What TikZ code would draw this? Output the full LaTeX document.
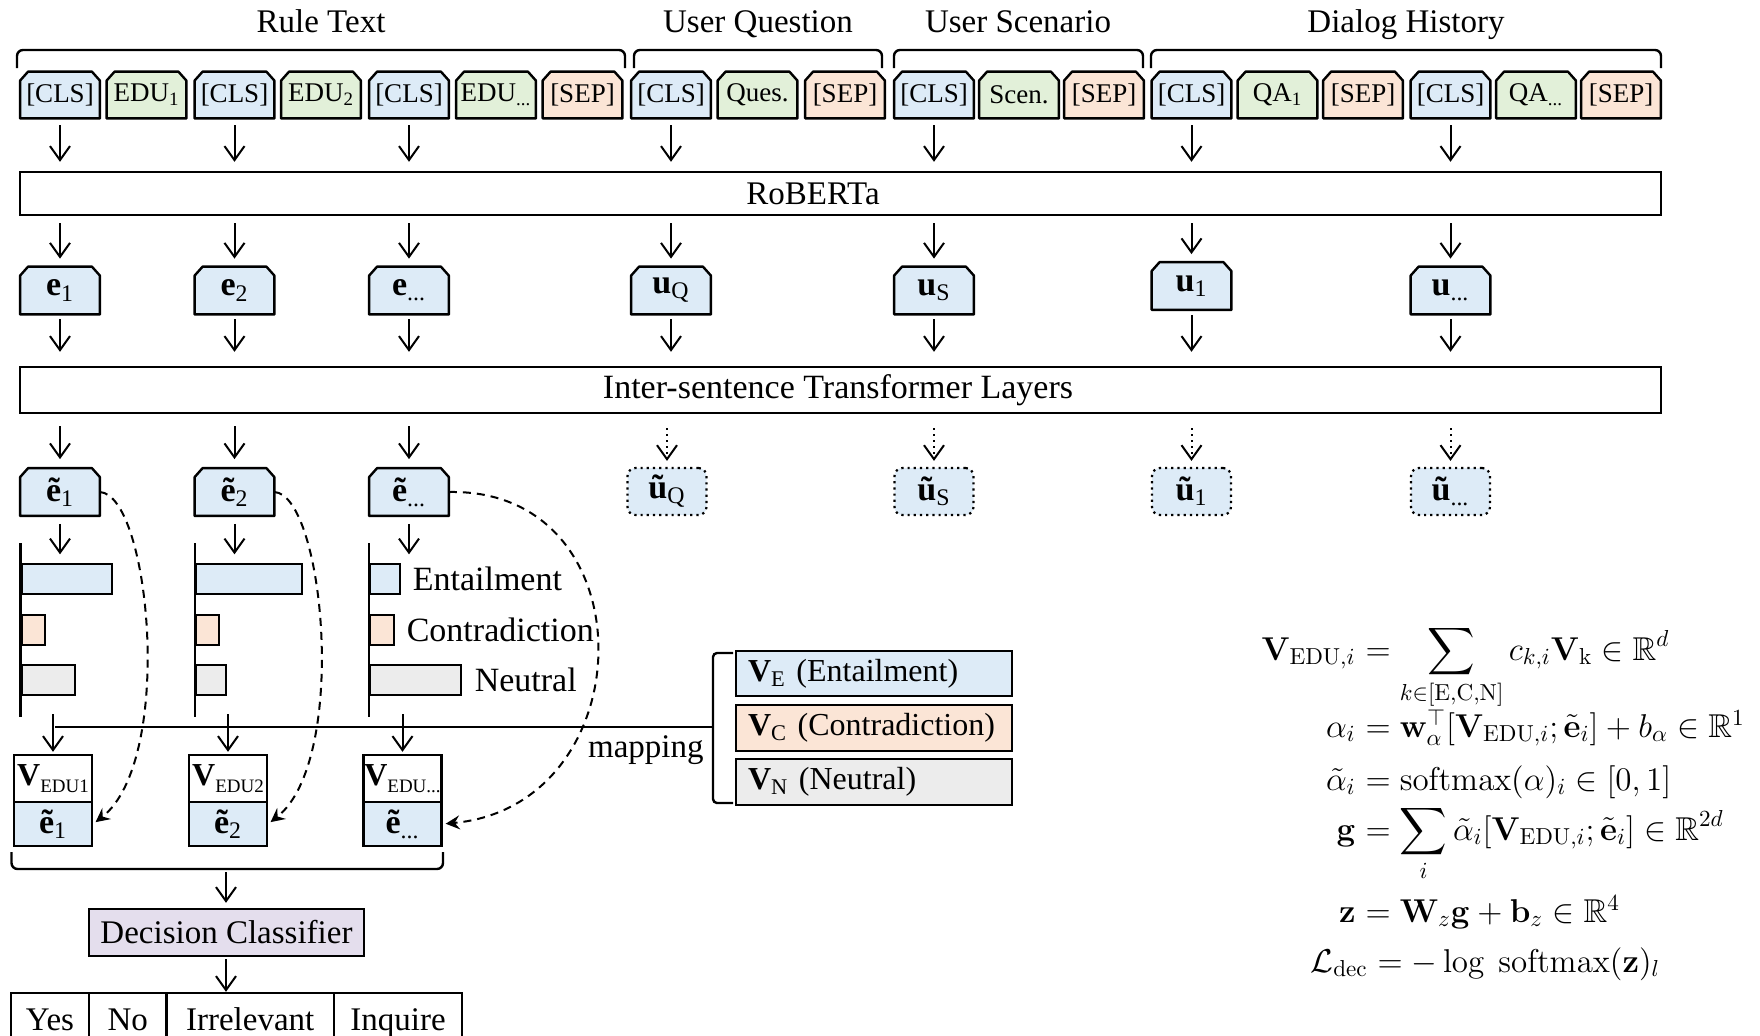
\RequirePackage{fix-cm}
\documentclass[tikz,border=0pt]{standalone}
\usepackage[no-math]{fontspec}
\setmainfont{Liberation Serif}
\usepackage{amsmath,amssymb}
\usetikzlibrary{arrows.meta}
\pgfdeclarelayer{bg}
\pgfsetlayers{bg,main}
\definecolor{cblue}{RGB}{221,235,247}
\definecolor{cgreen}{RGB}{226,240,217}
\definecolor{cpeach}{RGB}{251,229,214}
\definecolor{cgray}{RGB}{236,236,236}
\definecolor{cpurple}{RGB}{228,222,237}
\newcommand{\tokfont}{\fontsize{13.5}{16}\selectfont}
\newcommand{\lblfont}{\fontsize{16.5}{20}\selectfont}
\newcommand{\barfont}{\fontsize{17}{20}\selectfont}
\newcommand{\efont}{\fontsize{17}{20}\selectfont}
\newcommand{\mathsz}{\fontsize{16.5}{20}\selectfont}
\newcommand{\vsb}[1]{\raisebox{-0.45ex}{\fontsize{9.5}{10}\selectfont #1}}
% chamfered box: style, name, position, fill colour, text
\newcommand{\chnode}[5]{%
  \node[#1] (#2) at (#3) {#5};
  \begin{pgfonlayer}{bg}
    \draw[line width=1.2pt, fill=#4, line join=round]
      (#2.south west) -- ([yshift=-4.5pt]#2.north west) -- ([xshift=4pt]#2.north west)
      -- ([xshift=-4pt]#2.north east) -- ([yshift=-4.5pt]#2.north east) -- (#2.south east) -- cycle;
  \end{pgfonlayer}}
\begin{document}
\begin{tikzpicture}[x=0.5pt,y=-0.5pt,
  tok/.style={rectangle, minimum width=39.5pt, minimum height=23pt, inner sep=0pt, font=\tokfont},
  emb/.style={rectangle, minimum width=39.5pt, minimum height=23.5pt, inner sep=0pt, font=\efont},
  emt/.style={rectangle, draw, fill=cblue, dotted, line width=1.1pt, rounded corners=4pt,
    minimum width=39.5pt, minimum height=23.5pt, inner sep=0pt, font=\efont},
  layer/.style={draw, line width=1.2pt, minimum width=820.5pt, inner sep=0pt},
  blk/.style={draw, line width=1.2pt, inner sep=0pt},
  bar/.style={draw, line width=1.2pt, minimum height=15pt, inner sep=0pt, anchor=west},
  vbox/.style={blk, font=\fontsize{16}{19}\selectfont, text width=126pt, inner xsep=6pt, align=left},
  arr/.style={line width=1pt, -{Straight Barb[length=7pt,width=10pt]}},
  darr/.style={arr, dotted},
  dasharr/.style={line width=1pt, dash pattern=on 4pt off 3pt, -{Stealth[length=7pt,width=7pt,inset=2.5pt]}, shorten >=1.5pt},
  brace/.style={line width=1.2pt, rounded corners=3pt},
  ttl/.style={font=\lblfont, inner sep=0pt, anchor=base},
  mth/.style={font=\mathsz, inner sep=0pt}
]
\path[use as bounding box] (0,0) rectangle (1760,1035);
\clip (0,0) rectangle (1760,1035);

% ---------- titles and braces ----------
\node[ttl] (ttlR) at (321,32) {Rule Text};
\node[ttl] (ttlQ) at (758,32) {User Question};
\node[ttl] (ttlS) at (1018,32) {User Scenario};
\node[ttl] (ttlD) at (1406,32) {Dialog History};
\draw[brace] (17,68) -- (17,50) -- (625,50) -- (625,68);
\draw[brace] (634,68) -- (634,50) -- (882,50) -- (882,68);
\draw[brace] (894,68) -- (894,50) -- (1143,50) -- (1143,68);
\draw[brace] (1151,68) -- (1151,50) -- (1661,50) -- (1661,68);

% ---------- tokens ----------
\chnode{tok}{t1}{60,95}{cblue}{[CLS]}
\chnode{tok}{t2}{146.5,95}{cgreen}{EDU\textsubscript{1}}
\chnode{tok}{t3}{234.5,95}{cblue}{[CLS]}
\chnode{tok}{t4}{321,95}{cgreen}{EDU\textsubscript{2}}
\chnode{tok}{t5}{409,95}{cblue}{[CLS]}
\chnode{tok}{t6}{496,95}{cgreen}{EDU\textsubscript{...}}
\chnode{tok}{t7}{582.5,95}{cpeach}{[SEP]}
\chnode{tok}{t8}{671,95}{cblue}{[CLS]}
\chnode{tok}{t9}{757.5,95}{cgreen}{Ques.}
\chnode{tok}{t10}{845,95}{cpeach}{[SEP]}
\chnode{tok}{t11}{934,95}{cblue}{[CLS]}
\chnode{tok}{t12}{1019,95}{cgreen}{Scen.}
\chnode{tok}{t13}{1104,95}{cpeach}{[SEP]}
\chnode{tok}{t14}{1191.5,95}{cblue}{[CLS]}
\chnode{tok}{t15}{1277.5,95}{cgreen}{QA\textsubscript{1}}
\chnode{tok}{t16}{1363,95}{cpeach}{[SEP]}
\chnode{tok}{t17}{1450.5,95}{cblue}{[CLS]}
\chnode{tok}{t18}{1536,95}{cgreen}{QA\textsubscript{...}}
\chnode{tok}{t19}{1621,95}{cpeach}{[SEP]}

% ---------- RoBERTa ----------
\node[layer, minimum height=21.5pt] (rob) at (840.5,193.5) {};
\node[font=\lblfont, inner sep=0pt] (robt) at (813,193.5) {RoBERTa};
\foreach \t in {t1,t3,t5,t8,t11,t14,t17}
  \draw[arr, shorten <=3.5pt, shorten >=4.5pt] (\t.south) -- (\t.south |- rob.north);

% ---------- sentence embeddings ----------
\chnode{emb}{e1}{60,290.5}{cblue}{\textbf{e}\textsubscript{1}}
\chnode{emb}{e2}{234.5,290.5}{cblue}{\textbf{e}\textsubscript{2}}
\chnode{emb}{e3}{409,290.5}{cblue}{\textbf{e}\textsubscript{...}}
\chnode{emb}{uq}{671,290.5}{cblue}{\textbf{u}\textsubscript{Q}}
\chnode{emb}{us}{934,290.5}{cblue}{\textbf{u}\textsubscript{S}}
\chnode{emb}{u1}{1191.5,286}{cblue}{\textbf{u}\textsubscript{1}}
\chnode{emb}{un}{1450.5,290.5}{cblue}{\textbf{u}\textsubscript{...}}
\foreach \t in {e1,e2,e3,uq,us,u1,un}
  \draw[arr, shorten <=3.5pt, shorten >=4pt] (rob.south -| \t) -- (\t.north);

% ---------- inter-sentence layers ----------
\node[layer, minimum height=23pt] (isl) at (840.5,390) {};
\node[font=\barfont, inner sep=0pt] (islt) at (838,390) {Inter-sentence Transformer Layers};
\foreach \t in {e1,e2,e3,uq,us,u1,un}
  \draw[arr, shorten <=2.5pt, shorten >=7pt] (\t.south) -- (isl.north -| \t);

% ---------- contextual embeddings ----------
\chnode{emb}{et1}{60,492}{cblue}{\textbf{ẽ}\textsubscript{1}}
\chnode{emb}{et2}{234.5,492}{cblue}{\textbf{ẽ}\textsubscript{2}}
\chnode{emb}{et3}{409,492}{cblue}{\textbf{ẽ}\textsubscript{...}}
\node[emt] (utq) at (667,491.5)  {\textbf{ũ}\textsubscript{Q}};
\node[emt] (uts) at (934,491.5)  {\textbf{ũ}\textsubscript{S}};
\node[emt] (ut1) at (1191.5,491.5) {\textbf{ũ}\textsubscript{1}};
\node[emt] (utn) at (1450.5,491.5) {\textbf{ũ}\textsubscript{...}};
\foreach \t in {et1,et2,et3}
  \draw[arr, shorten <=6pt, shorten >=4.5pt] (isl.south -| \t) -- (\t.north);
\foreach \t in {utq,uts,ut1,utn}
  \draw[darr, shorten <=7pt, shorten >=3pt] (isl.south -| \t) -- (\t.north);

% ---------- bar charts ----------
\draw[line width=1.2pt] (20.5,543) -- (20.5,717);
\draw[line width=1.2pt] (195,543) -- (195,717);
\draw[line width=1.2pt] (369,543) -- (369,717);
\node[bar, fill=cblue,  minimum width=45.25pt] (bE1) at (20.5,579) {};
\node[bar, fill=cpeach, minimum width=11.75pt] (bC1) at (20.5,630) {};
\node[bar, fill=cgray,  minimum width=26.75pt] (bN1) at (20.5,680) {};
\node[bar, fill=cblue,  minimum width=53pt]    (bE2) at (195,579) {};
\node[bar, fill=cpeach, minimum width=11.5pt]  (bC2) at (195,630) {};
\node[bar, fill=cgray,  minimum width=15pt]    (bN2) at (195,680) {};
\node[bar, fill=cblue,  minimum width=15pt]    (bE3) at (369,579) {};
\node[bar, fill=cpeach, minimum width=12pt]    (bC3) at (369,630) {};
\node[bar, fill=cgray,  minimum width=45.5pt]  (bN3) at (369,680) {};
\node[font=\barfont, inner sep=0pt, anchor=west] (lE) at ([xshift=5.5pt]bE3.east) {Entailment};
\node[font=\barfont, inner sep=0pt, anchor=west] (lC) at ([xshift=5.5pt]bC3.east) {Contradiction};
\node[font=\barfont, inner sep=0pt, anchor=west] (lN) at ([xshift=6pt]bN3.east) {Neutral};
\draw[arr, shorten <=4pt, shorten >=4.25pt] (et1.south) -- (et1.south |- bE1.north);
\draw[arr, shorten <=4pt, shorten >=4.25pt] (et2.south) -- (et2.south |- bE2.north);
\draw[arr, shorten <=4pt, shorten >=4.25pt] (et3.south) -- (et3.south |- bE3.north);

% ---------- label vectors ----------
\node[vbox, fill=cblue,  minimum height=22.5pt] (vE) at (874,673.5) {\textbf{V}\textsubscript{E} (Entailment)};
\node[vbox, fill=cpeach, minimum height=23pt]   (vC) at (874,728) {\textbf{V}\textsubscript{C} (Contradiction)};
\node[vbox, fill=cgray,  minimum height=23pt]   (vN) at (874,782) {\textbf{V}\textsubscript{N} (Neutral)};
\draw[brace, rounded corners=2pt] (733,653) -- (713,653) -- (713,803) -- (733,803);
\coordinate (mapL) at (55,727);
\coordinate (mapR) at (713,727);
\draw[line width=1.2pt] (mapL) -- (mapR);
\node[font=\lblfont, inner sep=0pt, anchor=base east] (mapt) at (704,757) {mapping};

% ---------- EDU vectors ----------
\node[blk, fill=white, minimum width=39pt, minimum height=23.5pt] (vt1) at (53,778.5) {\fontsize{16}{18}\selectfont\textbf{V}\vsb{EDU1}};
\node[blk, fill=cblue, minimum width=39pt, minimum height=22pt, font=\efont] (vb1) at (53,824) {\textbf{ẽ}\textsubscript{1}};
\node[blk, fill=white, minimum width=39pt, minimum height=23.5pt] (vt2) at (228,778.5) {\fontsize{16}{18}\selectfont\textbf{V}\vsb{EDU2}};
\node[blk, fill=cblue, minimum width=39pt, minimum height=22pt, font=\efont] (vb2) at (228,824) {\textbf{ẽ}\textsubscript{2}};
\node[blk, fill=white, minimum width=39pt, minimum height=23.5pt] (vt3) at (402.5,778.5) {\fontsize{16}{18}\selectfont\textbf{V}\vsb{EDU...}};
\node[blk, fill=cblue, minimum width=39pt, minimum height=22pt, font=\efont] (vb3) at (402.5,824) {\textbf{ẽ}\textsubscript{...}};
\foreach \t in {vt1,vt2,vt3}
  \draw[arr, shorten >=1pt] ([yshift=6.5pt]\t.north |- mapL) -- (\t.north);

% ---------- dashed copies ----------
\draw[dasharr] (et1.east) .. controls (150,495) and (175,760) .. (vb1.east);
\draw[dasharr] (et2.east) .. controls (324,495) and (349,760) .. (vb2.east);
\draw[dasharr] (et3.east) .. controls (650,488) and (645,805) .. (vb3.east);

% ---------- decision ----------
\draw[brace] (11.5,852) -- (11.5,869) -- (443,869) -- (443,852);
\coordinate (bb) at (226,869);
\node[blk, fill=cpurple, font=\lblfont, minimum width=137.5pt, minimum height=23.5pt] (dc) at (226.5,932.5) {Decision Classifier};
\draw[arr, shorten <=1.5pt, shorten >=2.5pt] (bb) -- (bb |- dc.north);
\node[blk, font=\lblfont, minimum width=39pt,    text height=18.5pt, text depth=9pt] (yes) at (50,1020.5) {Yes};
\node[blk, font=\lblfont, minimum width=38.75pt, text height=18.5pt, text depth=9pt] (no)  at (127.75,1020.5) {No};
\node[blk, font=\lblfont, minimum width=83.75pt, text height=18.5pt, text depth=9pt] (irr) at (250.25,1020.5) {Irrelevant};
\node[blk, font=\lblfont, minimum width=64pt,    text height=18.5pt, text depth=9pt] (inq) at (398,1020.5) {Inquire};
\draw[arr, shorten <=1pt] (dc.south -| bb) -- (irr.north -| bb);

% ---------- equations ----------
\node[mth, anchor=base east] (q1l) at (1356,660) {$\mathbf{V}_{\mathrm{EDU},i}$};
\node[mth, anchor=base west] (q1r) at (1356,660) {${}=\displaystyle\sum_{k\in[\mathrm{E,C,N}]} c_{k,i}\mathbf{V}_{\mathrm{k}}\in\mathbb{R}^d$};
\node[mth, anchor=base east] (q2l) at (1356,737) {$\alpha_i$};
\node[mth, anchor=base west] (q2r) at (1356,737) {${}=\mathbf{w}_{\alpha}^{\top}[\mathbf{V}_{\mathrm{EDU},i};\tilde{\mathbf{e}}_i]+b_{\alpha}\in\mathbb{R}^1$};
\node[mth, anchor=base east] (q3l) at (1356,790) {$\tilde{\alpha}_i$};
\node[mth, anchor=base west] (q3r) at (1356,790) {${}=\mathrm{softmax}(\alpha)_i\in[0,1]$};
\node[mth, anchor=base east] (q4l) at (1356,840) {$\mathbf{g}$};
\node[mth, anchor=base west] (q4r) at (1356,840) {${}=\displaystyle\sum_{i}\tilde{\alpha}_i[\mathbf{V}_{\mathrm{EDU},i};\tilde{\mathbf{e}}_i]\in\mathbb{R}^{2d}$};
\node[mth, anchor=base east] (q5l) at (1356,922) {$\mathbf{z}$};
\node[mth, anchor=base west] (q5r) at (1356,922) {${}=\mathbf{W}_z\mathbf{g}+\mathbf{b}_z\in\mathbb{R}^4$};
\node[mth, anchor=base east] (q6l) at (1368,972) {$\mathcal{L}_{\mathrm{dec}}$};
\node[mth, anchor=base west] (q6r) at (1368,972) {${}=-\log\ \mathrm{softmax}(\mathbf{z})_l$};
\end{tikzpicture}
\end{document}
